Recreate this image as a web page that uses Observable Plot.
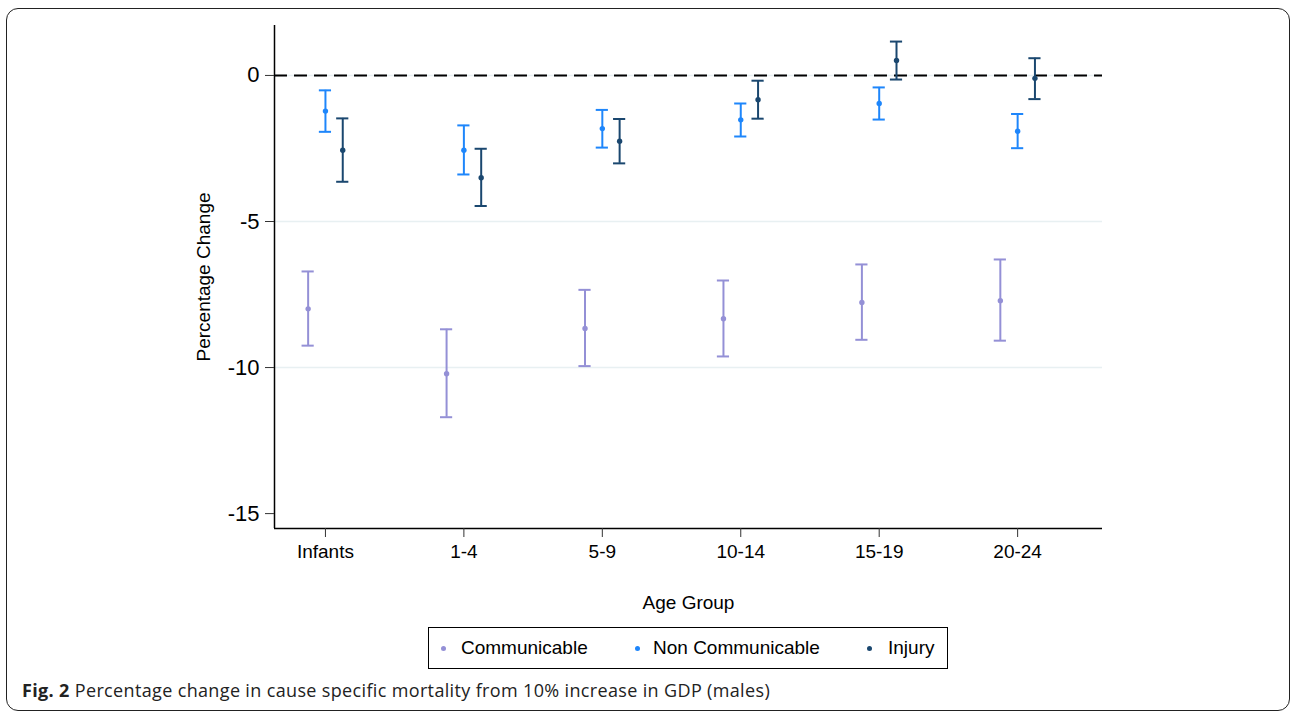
<!DOCTYPE html>
<html>
<head>
<meta charset="utf-8">
<script src="https://cdn.jsdelivr.net/npm/d3@7"></script>
<script src="https://cdn.jsdelivr.net/npm/@observablehq/plot@0.6"></script>
<style>
  html, body { margin: 0; padding: 0; background: #fff; }
  #page { position: relative; width: 1292px; height: 713px; overflow: hidden; font-family: "Liberation Sans", Arial, sans-serif; }
  #card { position: absolute; left: 6px; top: 8px; width: 1282px; height: 701px; border: 1.5px solid #222; border-radius: 12px; }
  #chart { position: absolute; left: 0; top: 0; }
  #legend { position: absolute; left: 428px; top: 627px; width: 518px; height: 40px; border: 1px solid #000; font-size: 19px; color: #000; }
  #legend .item { position: absolute; top: 0; height: 40px; line-height: 40px; white-space: nowrap; }
  #legend .sw { position: absolute; top: 18px; width: 5px; height: 5px; border-radius: 50%; }
  #caption { position: absolute; left: 22px; top: 678px; font-family: "Open Sans", sans-serif; font-size: 18px; letter-spacing: 0.35px; color: #222; white-space: nowrap; }
  #caption b { font-weight: 700; }
</style>
</head>
<body>
<div id="page">
  <div id="card"></div>
  <div id="chart"></div>
  <div id="legend"></div>
  <div id="caption"><b>Fig. 2</b> Percentage change in cause specific mortality from 10% increase in GDP (males)</div>
</div>
<script>
// Age groups and causes of death
const groups = ["Infants", "1-4", "5-9", "10-14", "15-19", "20-24"];
const causes = ["Communicable", "Non Communicable", "Injury"];
const colors = ["#9490d6", "#1e86fb", "#1a476f"];

// Point estimates and 95% confidence bounds (percentage change)
const commEst = [-7.99, -10.21, -8.66, -8.33, -7.77, -7.71];
const commLo  = [-9.25, -11.70, -9.95, -9.62, -9.05, -9.08];
const commHi  = [-6.71, -8.69, -7.34, -7.02, -6.47, -6.30];

const nonEst = [-1.22, -2.56, -1.82, -1.52, -0.96, -1.91];
const nonLo  = [-1.93, -3.39, -2.47, -2.09, -1.51, -2.49];
const nonHi  = [-0.51, -1.71, -1.18, -0.96, -0.41, -1.32];

const injEst = [-2.56, -3.50, -2.25, -0.83, 0.51, -0.10];
const injLo  = [-3.64, -4.47, -3.01, -1.48, -0.14, -0.81];
const injHi  = [-1.47, -2.51, -1.49, -0.18, 1.16, 0.59];

const yTicks = [0, -5, -10, -15];
const gridAt = [0, -5, -10];

// Side-by-side dodge of the three causes within each age group
const dodge = [-0.125, 0, 0.125];
const capHalf = 0.044;

const estimates = [commEst, nonEst, injEst];
const lows = [commLo, nonLo, injLo];
const highs = [commHi, nonHi, injHi];

const rows = [];
causes.forEach((cause, s) => {
  groups.forEach((g, i) => {
    rows.push({
      cause,
      pos: i + 1 + dodge[s],
      est: estimates[s][i],
      lo: lows[s][i],
      hi: highs[s][i]
    });
  });
});

const xDomain = [0.632, 6.613];
const yDomain = [-15.51, 1.71];

const chart = Plot.plot({
  width: 1292,
  height: 620,
  marginLeft: 274,
  marginRight: 190,
  marginTop: 25,
  marginBottom: 92,
  style: { background: "transparent", fontFamily: "Liberation Sans, Arial, sans-serif", color: "#000" },
  x: { type: "linear", domain: xDomain },
  y: { domain: yDomain },
  color: { domain: causes, range: colors },
  marks: [
    Plot.ruleY(gridAt, { stroke: "#e8f0f2", strokeWidth: 1.6 }),
    Plot.ruleY([0], { stroke: "#000", strokeWidth: 2, strokeDasharray: "13,7" }),
    Plot.ruleX([xDomain[0]], { stroke: "#000", strokeWidth: 1.5 }),
    Plot.ruleY([yDomain[0]], { stroke: "#000", strokeWidth: 1.5 }),
    Plot.axisY({
      ticks: yTicks, tickFormat: d => String(d), tickSize: 9, tickPadding: 6,
      fontSize: 22, label: null, stroke: "#333"
    }),
    Plot.axisX({
      ticks: groups.map((g, i) => i + 1), tickFormat: d => groups[d - 1],
      tickSize: 9, tickPadding: 7, fontSize: 19, label: null, stroke: "#333"
    }),
    Plot.text(["Percentage Change"], { frameAnchor: "left", textAnchor: "middle", rotate: -90, dx: -71, fontSize: 19, fill: "#000" }),
    Plot.text(["Age Group"], { frameAnchor: "bottom", dy: 80, fontSize: 19, fill: "#000" }),
    // Confidence intervals: whisker plus caps
    Plot.ruleX(rows, { x: "pos", y1: "lo", y2: "hi", stroke: "cause", strokeWidth: 2 }),
    Plot.ruleY(rows, { y: "lo", x1: d => d.pos - capHalf, x2: d => d.pos + capHalf, stroke: "cause", strokeWidth: 2 }),
    Plot.ruleY(rows, { y: "hi", x1: d => d.pos - capHalf, x2: d => d.pos + capHalf, stroke: "cause", strokeWidth: 2 }),
    Plot.dot(rows, { x: "pos", y: "est", fill: "cause", r: 2.7 })
  ]
});
document.getElementById("chart").appendChild(chart);

// Legend
const legend = document.getElementById("legend");
const swatchX = [12, 206, 438];
const labelX = [32, 224, 459];
causes.forEach((c, i) => {
  const sw = document.createElement("span");
  sw.className = "sw";
  sw.style.left = swatchX[i] + "px";
  sw.style.background = colors[i];
  legend.appendChild(sw);
  const t = document.createElement("span");
  t.className = "item";
  t.style.left = labelX[i] + "px";
  t.textContent = c;
  legend.appendChild(t);
});
</script>
</body>
</html>
